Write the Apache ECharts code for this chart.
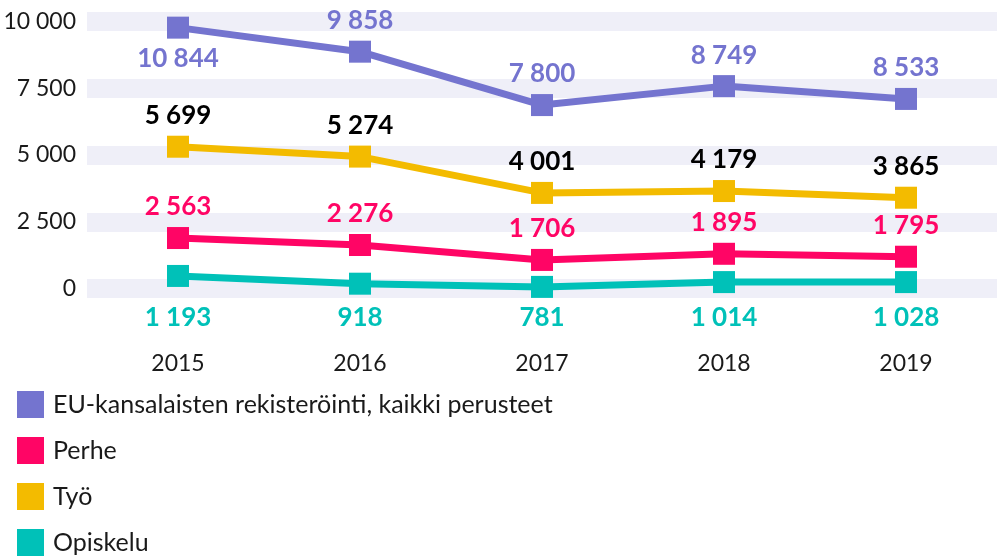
<!DOCTYPE html>
<html>
<head>
<meta charset="utf-8">
<title>Oleskeluluvat</title>
<script src="https://cdn.jsdelivr.net/npm/echarts@6/dist/echarts.min.js"></script>
<style>
    html, body { margin: 0; padding: 0; background: #fff; }
    #main { width: 997px; height: 556px; }
</style>
</head>
<body>
<div id="main"></div>
<script>
// vuodet
var years = ['2015', '2016', '2017', '2018', '2019'];
var yTicks = [0, 2500, 5000, 7500, 10000];

// viivojen sijainnit luettu kuvan y-akselilta
var euLine = [9770, 8870, 6870, 7580, 7100];
var tyoLine = [5310, 4940, 3580, 3650, 3400];
var perheLine = [1890, 1630, 1070, 1300, 1190];
var opiskeluLine = [470, 180, 60, 240, 240];

// kuvassa näkyvät arvot (datalabelit)
var euValues = [10844, 9858, 7800, 8749, 8533];
var tyoValues = [5699, 5274, 4001, 4179, 3865];
var perheValues = [2563, 2276, 1706, 1895, 1795];
var opiskeluValues = [1193, 918, 781, 1014, 1028];

var names = ['EU-kansalaisten rekisteröinti, kaikki perusteet', 'Perhe', 'Työ', 'Opiskelu'];
var colors = ['#7474cf', '#ff0565', '#f3bb00', '#00c1b8'];

var FONT = 'Lato';

function fmt(n) {
    return String(n).replace(/\B(?=(\d{3})+(?!\d))/g, ' ');
}

function makeSeries(name, color, line, values, labelColor, pos, distances) {
    return {
        name: name,
        type: 'line',
        symbol: 'rect',
        symbolSize: 22,
        lineStyle: { width: 7, color: color },
        itemStyle: { color: color },
        data: line.map(function (v, i) {
            var item = { value: v, label: { show: true, position: pos[i] } };
            if (distances) item.label.distance = distances[i];
            return item;
        }),
        label: {
            show: true,
            fontFamily: FONT,
            fontWeight: 'bold',
            fontSize: 26,
            color: labelColor,
            distance: 7,
            formatter: function (p) { return fmt(values[p.dataIndex]); }
        },
        z: 3
    };
}

var myChart = echarts.init(document.getElementById('main'));

function buildOption(opDist) {
    return {
        animation: false,
        grid: { left: 87, right: -3, top: 21.5, bottom: 267.5, containLabel: false },
        legend: {
            orient: 'vertical',
            left: 17,
            top: 391,
            height: 200,
            padding: 0,
            itemWidth: 27,
            itemHeight: 27,
            itemGap: 19,
            icon: 'rect',
            data: names,
            textStyle: { fontFamily: FONT, fontSize: 25, color: '#1a1a1a', padding: [0, 0, 0, 4] }
        },
        xAxis: {
            type: 'category',
            data: years,
            boundaryGap: true,
            axisLine: { show: false },
            axisTick: { show: false },
            axisLabel: { margin: 64, fontFamily: FONT, fontSize: 23, color: '#1a1a1a' }
        },
        yAxis: {
            type: 'value',
            min: yTicks[0],
            max: yTicks[yTicks.length - 1],
            interval: yTicks[1] - yTicks[0],
            axisLine: { show: false },
            axisTick: { show: false },
            axisLabel: {
                margin: 11,
                fontFamily: FONT,
                fontSize: 23,
                color: '#1a1a1a',
                formatter: function (v) { return fmt(v); }
            },
            splitLine: { show: true, lineStyle: { width: 19, color: '#efeff8' } }
        },
        series: [
            makeSeries(names[0], colors[0], euLine, euValues, colors[0],
                ['bottom', 'top', 'top', 'top', 'top']),
            makeSeries(names[2], colors[2], tyoLine, tyoValues, '#000000',
                ['top', 'top', 'top', 'top', 'top']),
            makeSeries(names[1], colors[1], perheLine, perheValues, colors[1],
                ['top', 'top', 'top', 'top', 'top']),
            makeSeries(names[3], colors[3], opiskeluLine, opiskeluValues, colors[3],
                ['bottom', 'bottom', 'bottom', 'bottom', 'bottom'], opDist)
        ]
    };
}

myChart.setOption(buildOption(null));

// opiskelu-labelit samalle riville akselin alle
var opDist = opiskeluLine.map(function (v, i) {
    var py = myChart.convertToPixel({ seriesIndex: 3 }, [i, v])[1];
    return 305 - py - 11;
});
myChart.setOption(buildOption(opDist));
</script>
</body>
</html>
